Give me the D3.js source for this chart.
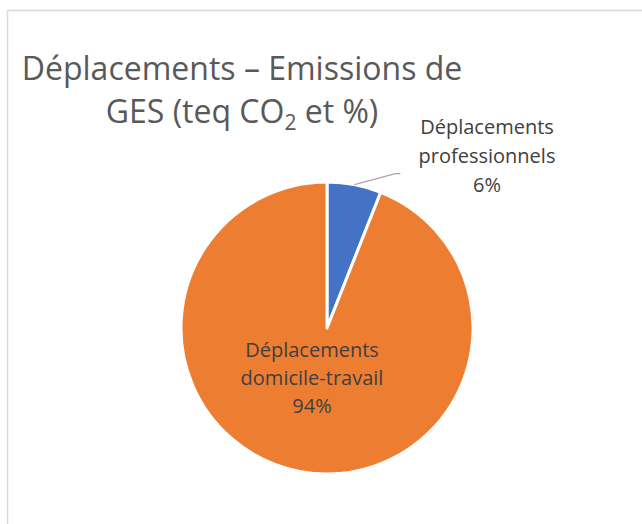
<!DOCTYPE html>
<html><head><meta charset="utf-8">
<script src="https://cdn.jsdelivr.net/npm/d3@7"></script>
<style>body{margin:0;background:#fff;} svg{display:block;}</style>
</head><body>
<svg id="c" width="642" height="524"></svg>
<script>
const categories = ["Déplacements professionnels", "Déplacements domicile-travail"];
const values = [6, 94];
const colors = ["#4472C4", "#ED7D31"];
const labelLines = [["Déplacements", "professionnels", "6%"], ["Déplacements", "domicile-travail", "94%"]];

const svg = d3.select("#c");
const font = "'Open Sans', sans-serif";
svg.append("rect").attr("x", 7.5).attr("y", 10.5).attr("width", 700).attr("height", 600)
  .attr("fill", "#fff").attr("stroke", "#d9d9d9").attr("stroke-width", 1.5);

const title = svg.append("text").attr("font-family", font).attr("font-size", 32).attr("fill", "#595959").attr("text-anchor", "middle");
title.append("tspan").attr("x", 242).attr("y", 80).text("Déplacements – Emissions de");
const t2 = title.append("tspan").attr("x", 242).attr("y", 123);
t2.append("tspan").text("GES (teq CO");
t2.append("tspan").attr("font-size", 21).attr("dy", 7).text("2");
t2.append("tspan").attr("dy", -7).text(" et %)");

const cx = 327, cy = 328, r = 146;
const pie = d3.pie().sort(null).value(d => d)(values);
const arc = d3.arc().innerRadius(0).outerRadius(r);
const g = svg.append("g").attr("transform", `translate(${cx},${cy})`);
g.selectAll("path").data(pie).join("path").attr("d", arc)
  .attr("fill", (d, i) => colors[i]).attr("stroke", "#fff").attr("stroke-width", 3).attr("stroke-linejoin", "round");

// leader line for small slice
const a0 = (pie[0].startAngle + pie[0].endAngle) / 2;
const p0 = [Math.sin(a0) * r, -Math.cos(a0) * r];
g.append("polyline").attr("points", [[p0[0], p0[1]], [p0[0] + 41, p0[1] - 11], [p0[0] + 46, p0[1] - 11]].map(p => p.join(",")).join(" "))
  .attr("fill", "none").attr("stroke", "#a6a6a6").attr("stroke-width", 1.2);

const lab1 = svg.append("text").attr("font-family", font).attr("font-size", 20).attr("fill", "#404040").attr("text-anchor", "middle");
labelLines[0].forEach((t, i) => lab1.append("tspan").attr("x", 487).attr("y", 134 + i * 29).text(t));
const lab2 = svg.append("text").attr("font-family", font).attr("font-size", 20).attr("fill", "#404040").attr("text-anchor", "middle");
labelLines[1].forEach((t, i) => lab2.append("tspan").attr("x", 312).attr("y", 357 + i * 28).text(t));
</script>
</body></html>
